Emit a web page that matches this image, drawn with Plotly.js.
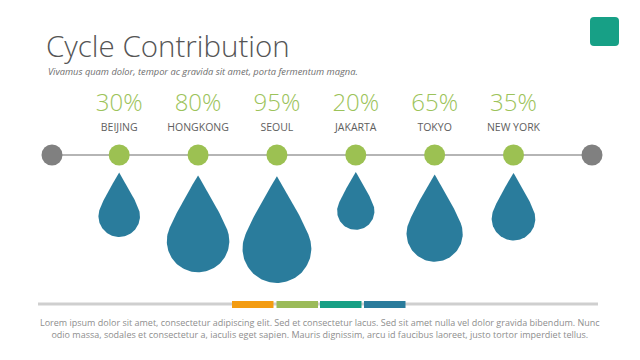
<!DOCTYPE html>
<html>
<head>
<meta charset="utf-8">
<script src="https://cdn.plot.ly/plotly-3.0.1.min.js"></script>
<style>
  html, body { margin: 0; padding: 0; background: #ffffff; }
  #chart { width: 640px; height: 360px; }
</style>
</head>
<body>
<div id="chart"></div>
<script>
// ---- Data ----
const cities = ['BEIJING', 'HONGKONG', 'SEOUL', 'JAKARTA', 'TOKYO', 'NEW YORK'];
const percents = [30, 80, 95, 20, 65, 35];
const percentLabels = percents.map(p => p + '%');
const legendColors = ['#F39C12', '#9BBB59', '#16A085', '#2A7C9C'];
const titleText = 'Cycle Contribution';
const subtitleText = 'Vivamus quam dolor, tempor ac gravida sit amet, porta fermentum magna.';
const bodyLines = [
  'Lorem ipsum dolor sit amet, consectetur adipiscing elit. Sed et consectetur lacus. Sed sit amet nulla vel dolor gravida bibendum. Nunc',
  'odio massa, sodales et consectetur a, iaculis eget sapien. Mauris dignissim, arcu id faucibus laoreet, justo tortor imperdiet tellus.'
];

// ---- Geometry helpers ----
const PX_PER_UNIT = 78.86;     // pixels per category step on the x axis
const X0 = 119.2;              // pixel position of the first category
const LINE_Y = 155;
const idx = cities.map((_, i) => i);

function dropOutline(i, pct) {
  const r = 14.45 + 0.21 * pct;          // drop radius grows with the share
  const tipY = 167 + 0.27 * r;
  const d = 2.1 * r;
  const cy = tipY + d;
  const xs = [], ys = [];
  const toX = px => i + px / PX_PER_UNIT;
  const th = 12 * Math.PI / 180;         // where the side leaves the circle
  const be = 31 * Math.PI / 180;         // half-angle at the tip
  const N = 70;
  for (let k = 0; k <= N; k++) {
    const phi = th - (Math.PI + 2 * th) * k / N;
    xs.push(toX(r * Math.cos(phi)));
    ys.push(cy - r * Math.sin(phi));
  }
  // left side: intersection of circle tangent at PL and tip line
  const PL = [-r * Math.cos(th), cy - r * Math.sin(th)];
  const T = [0, tipY];
  const u = [Math.sin(th), -Math.cos(th)];
  const v = [-Math.sin(be), Math.cos(be)];
  // PL + a*u = T + b*v
  const det = u[0] * (-v[1]) - (-v[0]) * u[1];
  const rx = T[0] - PL[0], ry = T[1] - PL[1];
  const a = (rx * (-v[1]) - (-v[0]) * ry) / det;
  const CL = [PL[0] + a * u[0], PL[1] + a * u[1]];
  const CR = [-CL[0], CL[1]];
  const PR = [-PL[0], PL[1]];
  const M = 30;
  for (let k = 1; k <= M; k++) {
    const t = k / M;
    const x = (1 - t) * (1 - t) * PL[0] + 2 * (1 - t) * t * CL[0] + t * t * T[0];
    const y = (1 - t) * (1 - t) * PL[1] + 2 * (1 - t) * t * CL[1] + t * t * T[1];
    xs.push(toX(x)); ys.push(y);
  }
  for (let k = 1; k <= M; k++) {
    const t = k / M;
    const x = (1 - t) * (1 - t) * T[0] + 2 * (1 - t) * t * CR[0] + t * t * PR[0];
    const y = (1 - t) * (1 - t) * T[1] + 2 * (1 - t) * t * CR[1] + t * t * PR[1];
    xs.push(toX(x)); ys.push(y);
  }
  return { xs, ys };
}

const traces = [];
percents.forEach((p, i) => {
  const o = dropOutline(i, p);
  traces.push({
    type: 'scatter', mode: 'lines', x: o.xs, y: o.ys,
    fill: 'toself', fillcolor: '#2A7C9C', line: { width: 0, color: '#2A7C9C' },
    hoverinfo: 'skip', showlegend: false
  });
});

// green nodes
traces.push({
  type: 'scatter', mode: 'markers', x: idx, y: idx.map(() => LINE_Y),
  marker: { size: 21, color: '#9CC152', line: { width: 0 } },
  hoverinfo: 'skip', showlegend: false
});
// percent labels
traces.push({
  type: 'scatter', mode: 'text', x: idx, y: idx.map(() => 105),
  text: percentLabels, textposition: 'middle center',
  textfont: { family: 'Open Sans', size: 24, color: '#9CC35A', weight: 300 },
  hoverinfo: 'skip', showlegend: false
});
// city labels
traces.push({
  type: 'scatter', mode: 'text', x: idx, y: idx.map(() => 128),
  text: cities, textposition: 'middle center',
  textfont: { family: 'Open Sans', size: 10.5, color: '#5E5E5E' },
  hoverinfo: 'skip', showlegend: false
});

// ---- Decorations ----
const shapes = [
  { type: 'line', xref: 'x2', yref: 'y', x0: 52, x1: 592, y0: LINE_Y, y1: LINE_Y,
    line: { color: '#B5B5B5', width: 2 }, layer: 'below' },
  { type: 'circle', xref: 'x2', yref: 'y', x0: 41.5, x1: 62.5, y0: 144.5, y1: 165.5,
    fillcolor: '#808080', line: { width: 0 } },
  { type: 'circle', xref: 'x2', yref: 'y', x0: 581.5, x1: 602.5, y0: 144.5, y1: 165.5,
    fillcolor: '#808080', line: { width: 0 } },
  { type: 'line', xref: 'x2', yref: 'y', x0: 38, x1: 598, y0: 304, y1: 304,
    line: { color: '#CFCFCF', width: 3 }, layer: 'below' },
  { type: 'path', xref: 'x2', yref: 'y',
    path: 'M594,17 L615,17 Q619,17 619,21 L619,42 Q619,46 615,46 L594,46 Q590,46 590,42 L590,21 Q590,17 594,17 Z',
    fillcolor: '#17A086', line: { width: 0 } }
];
const segStarts = [232, 276.5, 320, 364];
legendColors.forEach((c, k) => {
  shapes.push({ type: 'rect', xref: 'x2', yref: 'y', x0: segStarts[k], x1: segStarts[k] + 41.5,
    y0: 301, y1: 308, fillcolor: c, line: { width: 0 } });
});

const annotations = [
  { xref: 'x2', yref: 'y', x: 46, y: 71, xanchor: 'left', yanchor: 'middle', showarrow: false,
    text: subtitleText, font: { family: 'Open Sans', size: 9.3, color: '#6E6E6E', style: 'italic' } },
  { xref: 'x2', yref: 'y', x: 320, y: 328.5, xanchor: 'center', yanchor: 'middle', showarrow: false,
    align: 'center', text: bodyLines.join('<br>'),
    font: { family: 'Open Sans', size: 9, color: '#8E8E8E' } }
];

const layout = {
  width: 640, height: 360,
  margin: { l: 0, r: 0, t: 0, b: 0, pad: 0 },
  paper_bgcolor: '#ffffff', plot_bgcolor: '#ffffff',
  title: { text: titleText, xref: 'container', yref: 'container', x: 46 / 640, xanchor: 'left',
    y: 1 - 47 / 360, yanchor: 'middle',
    font: { family: 'Open Sans', size: 29.5, color: '#555555', weight: 300 } },
  xaxis: { range: [-X0 / PX_PER_UNIT, (640 - X0) / PX_PER_UNIT], visible: false, fixedrange: true },
  xaxis2: { range: [0, 640], overlaying: 'x', visible: false, fixedrange: true },
  yaxis: { range: [360, 0], visible: false, fixedrange: true },
  showlegend: false,
  shapes: shapes,
  annotations: annotations
};

Plotly.newPlot('chart', traces, layout, { staticPlot: true, displayModeBar: false });
</script>
</body>
</html>
